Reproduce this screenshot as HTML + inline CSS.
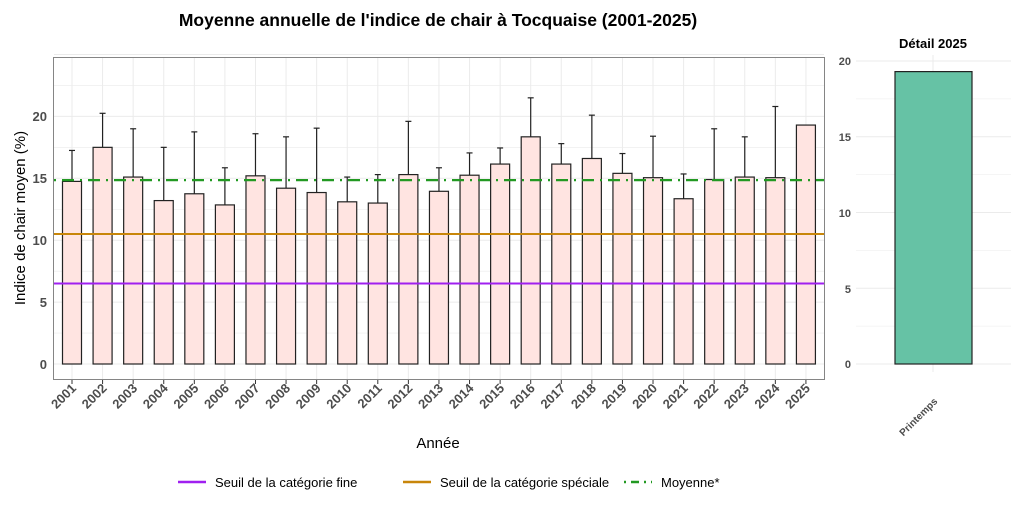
<!DOCTYPE html>
<html><head><meta charset="utf-8"><style>body{margin:0;background:#fff}svg{display:block;font-family:"Liberation Sans",sans-serif}</style></head>
<body>
<svg id="s" width="1024" height="512" xmlns="http://www.w3.org/2000/svg">
<rect width="1024" height="512" fill="#fff"/>
<text x="438" y="26" text-anchor="middle" font-size="17.5" font-weight="bold" fill="#000">Moyenne annuelle de l'indice de chair à Tocquaise (2001-2025)</text>
<g id="grid"></g>
<g id="bars"></g>
<rect x="53.5" y="57.5" width="771" height="322" fill="none" stroke="#333" stroke-opacity="0.6" stroke-width="1"/>
<g font-size="13" font-weight="bold" fill="#4d4d4d" text-anchor="end">
<text x="47" y="369">0</text><text x="47" y="307">5</text><text x="47" y="245">10</text><text x="47" y="183">15</text><text x="47" y="121">20</text>
</g>
<text transform="translate(25,218) rotate(-90)" text-anchor="middle" font-size="15" fill="#000">Indice de chair moyen (%)</text>
<g id="years" font-size="13" font-weight="bold" fill="#4d4d4d" text-anchor="end"></g>
<text x="438" y="448" text-anchor="middle" font-size="15" fill="#000">Année</text>
<text x="933" y="48" text-anchor="middle" font-size="13" font-weight="bold" fill="#000">Détail 2025</text>
<g font-size="11" font-weight="bold" fill="#4d4d4d" text-anchor="end">
<text x="851" y="368">0</text><text x="851" y="293">5</text><text x="851" y="217">10</text><text x="851" y="141">15</text><text x="851" y="65">20</text>
</g>
<text transform="translate(938,402) rotate(-45)" text-anchor="end" font-size="10" font-weight="bold" fill="#4d4d4d">Printemps</text>
<g font-size="13" fill="#000">
<line x1="178" y1="482" x2="206" y2="482" stroke="#a020f0" stroke-width="2.5"/>
<text x="215" y="487">Seuil de la catégorie fine</text>
<line x1="403" y1="482" x2="431" y2="482" stroke="#c8860a" stroke-width="2.5"/>
<text x="440" y="487">Seuil de la catégorie spéciale</text>
<line x1="624" y1="482" x2="652" y2="482" stroke="#229922" stroke-width="2.5" stroke-dasharray="2 5 8 5"/>
<text x="661" y="487">Moyenne*</text>
</g>
</svg>
<script>
var NS="http://www.w3.org/2000/svg";
function el(p,t,a){var e=document.createElementNS(NS,t);for(var k in a)e.setAttribute(k,a[k]);document.getElementById(p).appendChild(e);return e;}
var Y=function(v){return 364-12.38*v;};
var X=function(i){return 72+30.58*i;};
for(var v=0;v<=25;v+=2.5){var maj=(v%5==0);el("grid","line",{x1:54,x2:824,y1:Y(v),y2:Y(v),stroke:"#ebebeb","stroke-width":maj?1:0.6});}
for(var i=0;i<25;i++){el("grid","line",{x1:X(i),x2:X(i),y1:58,y2:379,stroke:"#ebebeb","stroke-width":1});}
var Y2=function(v){return 364-15.15*v;};
for(var v=0;v<=20;v+=2.5){el("grid","line",{x1:856,x2:1011,y1:Y2(v),y2:Y2(v),stroke:"#ebebeb","stroke-width":v%5==0?1:0.6});}
el("grid","line",{x1:933,x2:933,y1:55,y2:372,stroke:"#ebebeb"});
var d=[[14.75,17.25],[17.5,20.25],[15.1,19],[13.2,17.5],[13.75,18.75],[12.85,15.85],[15.2,18.6],[14.2,18.35],[13.85,19.05],[13.1,15.1],[13.0,15.3],[15.3,19.6],[13.95,15.85],[15.25,17.05],[16.15,17.45],[18.35,21.5],[16.15,17.8],[16.6,20.1],[15.4,17],[15.05,18.4],[13.35,15.35],[14.9,19],[15.1,18.35],[15.05,20.8],[19.3,null]];
for(var i=0;i<25;i++){var x=X(i),v=d[i][0],e=d[i][1];
 if(e){el("bars","line",{x1:x,x2:x,y1:Y(v),y2:Y(e),stroke:"#222","stroke-width":1.2});el("bars","line",{x1:x-3,x2:x+3,y1:Y(e),y2:Y(e),stroke:"#222","stroke-width":1.2});}
 el("bars","rect",{x:x-9.5,y:Y(v),width:19,height:Y(0)-Y(v),fill:"#ffe4e1",stroke:"#222","stroke-width":1.2});
 el("bars","line",{x1:x,x2:x,y1:380,y2:384,stroke:"#333"});
 var t=el("years","text",{x:x+5,y:389,transform:"rotate(-45 "+(x+5)+" 389)"});t.textContent=2001+i;}
el("bars","line",{x1:54,x2:824,y1:Y(6.5),y2:Y(6.5),stroke:"#a020f0","stroke-width":2});
el("bars","line",{x1:54,x2:824,y1:Y(10.5),y2:Y(10.5),stroke:"#c8860a","stroke-width":2});
el("bars","line",{x1:54,x2:824,y1:Y(14.85),y2:Y(14.85),stroke:"#229922","stroke-width":2.2,"stroke-dasharray":"2 6 12 6"});
el("bars","rect",{x:895,y:Y2(19.3),width:77,height:Y2(0)-Y2(19.3),fill:"#66c2a5",stroke:"#222","stroke-width":1.2});
</script>
</body></html>
